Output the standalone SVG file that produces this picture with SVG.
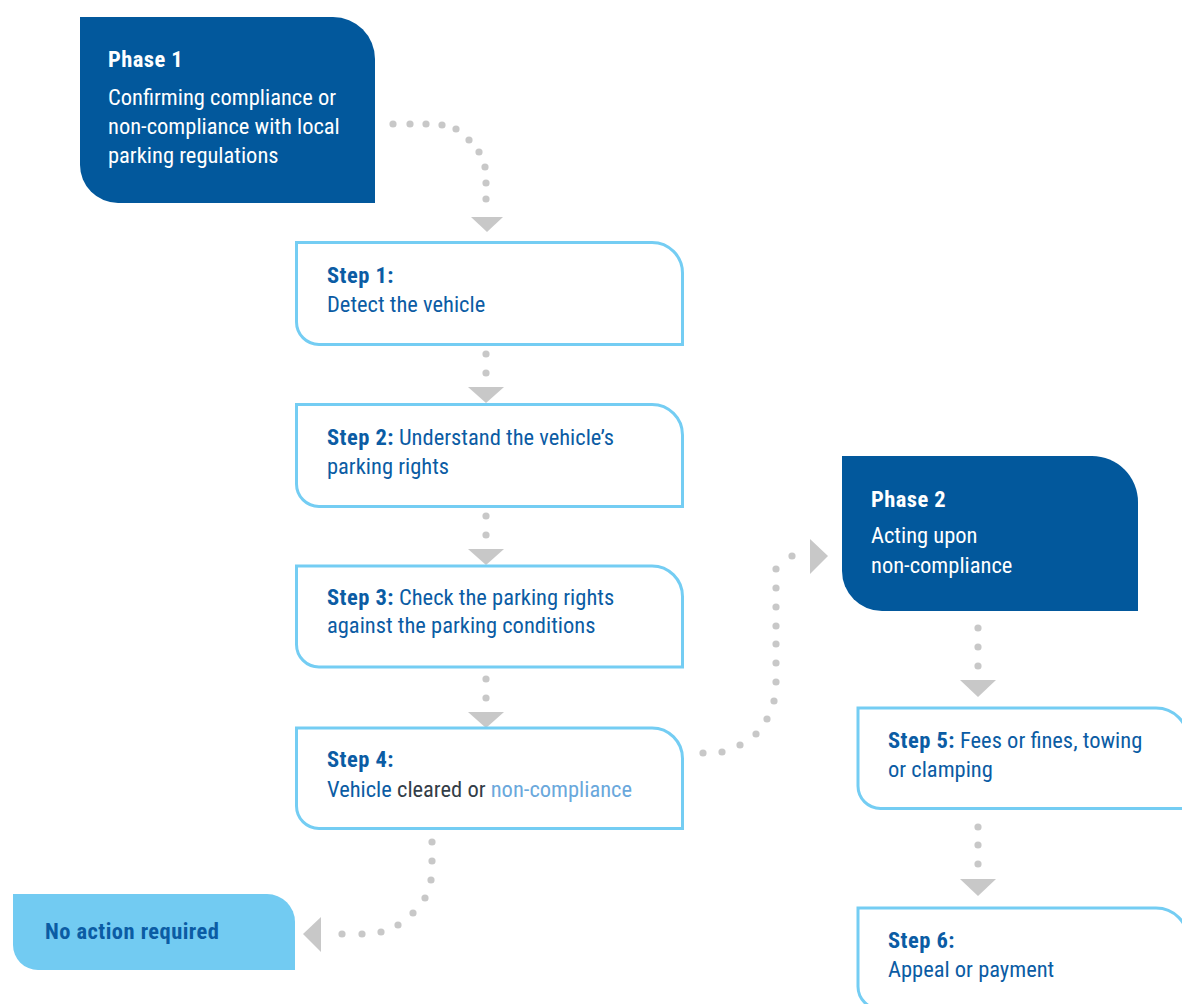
<svg xmlns="http://www.w3.org/2000/svg" width="1182" height="1004" viewBox="0 0 1182 1004">
<style>
text{font-family:"Liberation Sans Narrow","Roboto Condensed","Liberation Sans",Arial,sans-serif;font-size:22.5px}
.b{font-weight:bold;letter-spacing:0.45px}
.w{fill:#ffffff}
.t{fill:#0b5ca4}
.dk{fill:#333d47}
.lt{fill:#6aa8dc}
.phase{fill:#02589c}
.step{fill:#ffffff;stroke:#74cdf3;stroke-width:3}
.noact{fill:#72cbf2}
.dot{fill:#c8c8c8}
.tri{fill:#c8c8c8}
</style>
<rect width="1182" height="1004" fill="#ffffff"/>
<g id="connectors">
<g id="c1"><circle class="dot" cx="393" cy="124" r="3.6"/><circle class="dot" cx="410" cy="124" r="3.6"/><circle class="dot" cx="426" cy="124" r="3.6"/><circle class="dot" cx="442" cy="125" r="3.6"/><circle class="dot" cx="456" cy="129" r="3.6"/><circle class="dot" cx="469" cy="140" r="3.6"/><circle class="dot" cx="479" cy="152" r="3.6"/><circle class="dot" cx="485" cy="167" r="3.6"/><circle class="dot" cx="486" cy="183" r="3.6"/><circle class="dot" cx="486" cy="199" r="3.6"/><polygon class="tri" points="471,217 503,217 487,232"/></g>
<g id="c2"><circle class="dot" cx="486" cy="354" r="3.6"/><circle class="dot" cx="486" cy="373" r="3.6"/><polygon class="tri" points="468,387 504,387 486,403"/></g>
<g id="c3"><circle class="dot" cx="486" cy="516" r="3.6"/><circle class="dot" cx="486" cy="535" r="3.6"/><polygon class="tri" points="468,549 504,549 486,565"/></g>
<g id="c4"><circle class="dot" cx="486" cy="679" r="3.6"/><circle class="dot" cx="486" cy="698" r="3.6"/><polygon class="tri" points="468,712 504,712 486,728"/></g>
<g id="c5"><circle class="dot" cx="703" cy="753" r="3.6"/><circle class="dot" cx="722" cy="752" r="3.6"/><circle class="dot" cx="740" cy="745" r="3.6"/><circle class="dot" cx="756" cy="734" r="3.6"/><circle class="dot" cx="767" cy="719" r="3.6"/><circle class="dot" cx="774" cy="701" r="3.6"/><circle class="dot" cx="776" cy="682" r="3.6"/><circle class="dot" cx="776" cy="663" r="3.6"/><circle class="dot" cx="776" cy="644" r="3.6"/><circle class="dot" cx="776" cy="626" r="3.6"/><circle class="dot" cx="776" cy="607" r="3.6"/><circle class="dot" cx="776" cy="588" r="3.6"/><circle class="dot" cx="776" cy="569" r="3.6"/><circle class="dot" cx="792" cy="556" r="3.6"/><polygon class="tri" points="810,539 810,574 828,556"/></g>
<g id="c6"><circle class="dot" cx="978" cy="628" r="3.6"/><circle class="dot" cx="978" cy="647" r="3.6"/><circle class="dot" cx="978" cy="666" r="3.6"/><polygon class="tri" points="960,680 996,680 978,697"/></g>
<g id="c7"><circle class="dot" cx="978" cy="827" r="3.6"/><circle class="dot" cx="978" cy="845" r="3.6"/><circle class="dot" cx="978" cy="864" r="3.6"/><polygon class="tri" points="960,879 996,879 978,896"/></g>
<g id="c8"><circle class="dot" cx="432" cy="842" r="3.6"/><circle class="dot" cx="432" cy="861" r="3.6"/><circle class="dot" cx="431" cy="880" r="3.6"/><circle class="dot" cx="425" cy="898" r="3.6"/><circle class="dot" cx="413" cy="913" r="3.6"/><circle class="dot" cx="398" cy="925" r="3.6"/><circle class="dot" cx="381" cy="932" r="3.6"/><circle class="dot" cx="362" cy="934" r="3.6"/><circle class="dot" cx="342" cy="934" r="3.6"/><polygon class="tri" points="321,917 321,952 303,934"/></g>
</g>
<g id="phase1">
<path class="phase" d="M80 17 H333 A42 42 0 0 1 375 59 V203 H118 A38 38 0 0 1 80 165 Z"/>
<text x="108" y="67" class="b w">Phase 1</text>
<text x="108" y="105" class="w">Confirming compliance or</text>
<text x="108" y="134" class="w">non-compliance with local</text>
<text x="108" y="163" class="w">parking regulations</text>
</g>
<g id="step1">
<path class="step" d="M296.5 242.5 H652 A30.5 30.5 0 0 1 682.5 273 V344.5 H319 A22.5 22.5 0 0 1 296.5 322 Z"/>
<text x="327" y="283" class="b t">Step 1:</text>
<text x="327" y="312" class="t">Detect the vehicle</text>
</g>
<g id="step2">
<path class="step" d="M296.5 404.5 H652 A30.5 30.5 0 0 1 682.5 435 V506.5 H319 A22.5 22.5 0 0 1 296.5 484 Z"/>
<text x="327" y="445" class="t"><tspan class="b">Step 2:</tspan> Understand the vehicle’s</text>
<text x="327" y="474" class="t">parking rights</text>
</g>
<g id="step3">
<path class="step" d="M296.5 566 H652 A30.5 30.5 0 0 1 682.5 596.5 V667 H319 A22.5 22.5 0 0 1 296.5 644.5 Z"/>
<text x="327" y="605" class="t"><tspan class="b">Step 3:</tspan> Check the parking rights</text>
<text x="327" y="633" class="t">against the parking conditions</text>
</g>
<g id="step4">
<path class="step" d="M296.5 728 H652 A30.5 30.5 0 0 1 682.5 758.5 V828.5 H319 A22.5 22.5 0 0 1 296.5 806 Z"/>
<text x="327" y="767" class="b t">Step 4:</text>
<text x="327" y="797" class="t">Vehicle <tspan class="dk">cleared or</tspan> <tspan class="lt">non-compliance</tspan></text>
</g>
<g id="phase2">
<path class="phase" d="M842 456 H1092 A46 46 0 0 1 1138 502 V611 H882 A40 40 0 0 1 842 571 Z"/>
<text x="871" y="507" class="b w">Phase 2</text>
<text x="871" y="543" class="w">Acting upon</text>
<text x="871" y="573" class="w">non-compliance</text>
</g>
<g id="step5">
<path class="step" d="M858 708 H1156 A32 32 0 0 1 1188 740 V808.5 H880.5 A22.5 22.5 0 0 1 858 786 Z"/>
<text x="888" y="748" class="t"><tspan class="b">Step 5:</tspan> Fees or fines, towing</text>
<text x="888" y="777" class="t">or clamping</text>
</g>
<g id="step6">
<path class="step" d="M858 908 H1156 A32 32 0 0 1 1188 940 V1009 H880.5 A22.5 22.5 0 0 1 858 986.5 Z"/>
<text x="888" y="948" class="b t">Step 6:</text>
<text x="888" y="977" class="t">Appeal or payment</text>
</g>
<g id="noaction">
<path class="noact" d="M13 894 H267 A28 28 0 0 1 295 922 V970 H38 A25 25 0 0 1 13 945 Z"/>
<text x="45" y="939" class="b t">No action required</text>
</g>
</svg>
